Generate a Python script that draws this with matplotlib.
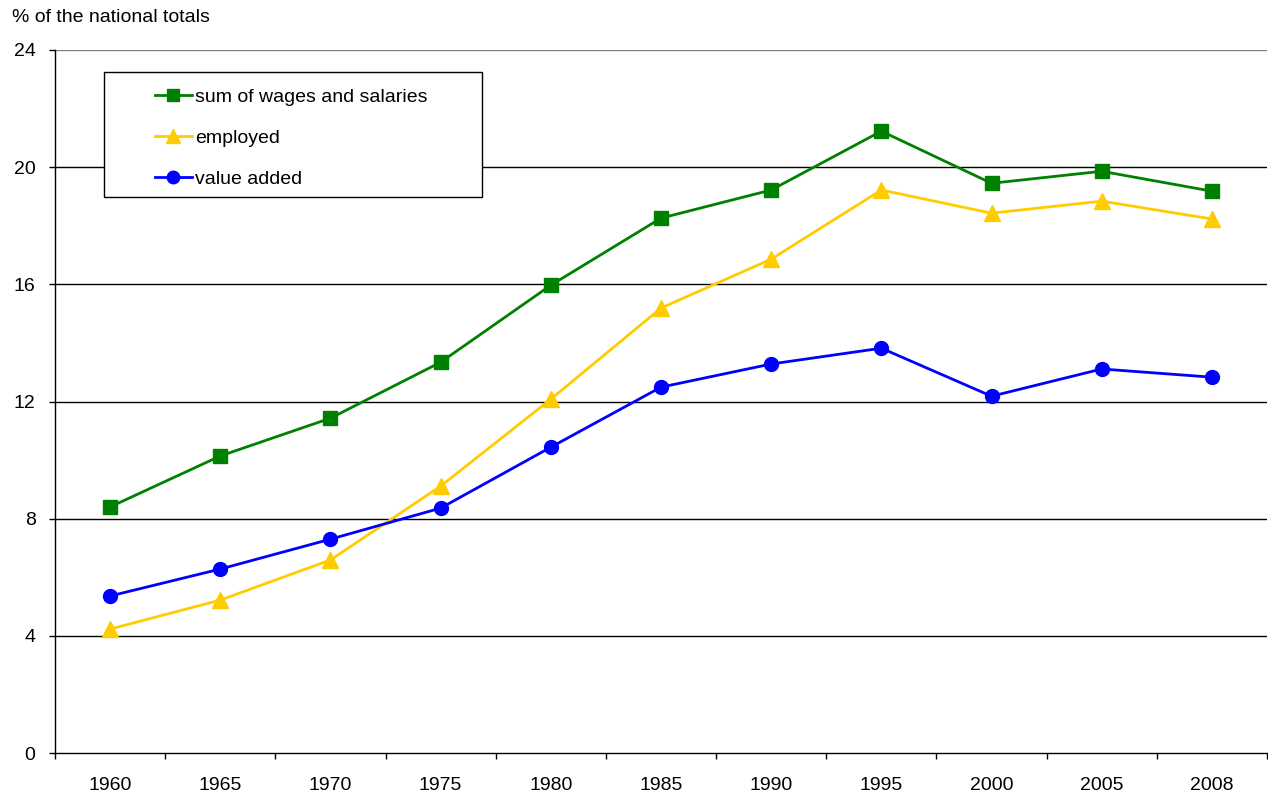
import matplotlib
matplotlib.use("Agg")
import matplotlib.pyplot as plt
from matplotlib.patches import Rectangle
import numpy as np

plt.rcParams['font.family'] = ['Liberation Sans', 'DejaVu Sans']

years = ["1960", "1965", "1970", "1975", "1980", "1985", "1990", "1995", "2000", "2005", "2008"]
wages = [8.40, 10.14, 11.43, 13.34, 15.97, 18.26, 19.22, 21.23, 19.45, 19.86, 19.18]
employed = [4.23, 5.22, 6.59, 9.11, 12.08, 15.19, 16.86, 19.22, 18.43, 18.84, 18.23]
value_added = [5.36, 6.28, 7.30, 8.36, 10.44, 12.49, 13.28, 13.82, 12.18, 13.11, 12.83]
yticks = [0, 4, 8, 12, 16, 20, 24]

fig = plt.figure(figsize=(12.68, 7.96), dpi=100)
ax = fig.add_axes([55/1268, 43/796, 1212/1268, 703/796])

x = np.arange(len(years))
ax.plot(x, wages, color='#008000', lw=2, marker='s', ms=10, label='sum of wages and salaries', zorder=5)
ax.plot(x, employed, color='#FFCC00', lw=2, marker='^', ms=11, label='employed', zorder=5)
ax.plot(x, value_added, color='#0000FF', lw=2, marker='o', ms=10, label='value added', zorder=5)

ax.set_xlim(-0.5, len(years) - 0.5)
ax.set_ylim(0, 24)
ax.set_yticks(yticks)
ax.set_yticklabels([str(v) for v in yticks], fontsize=14)
for v in yticks[1:]:
    ax.axhline(v, color='#808080' if v == 24 else 'black', lw=1, zorder=1)

ax.set_xticks(x)
ax.set_xticklabels(years, fontsize=14)
ax.set_xticks(np.arange(-0.5, len(years) + 0.5, 1), minor=True)
ax.tick_params(axis='x', which='major', length=0, pad=17)
ax.tick_params(axis='x', which='minor', length=4, width=1, direction='out', color='black')
ax.tick_params(axis='y', length=4, width=1, direction='out', pad=10)

for s in ['top', 'right']:
    ax.spines[s].set_visible(False)
for s in ['left', 'bottom']:
    ax.spines[s].set_color('black')
    ax.spines[s].set_linewidth(1)

# legend box
x0 = (104 - 55) / 1212
y0 = (753 - 197) / 703
w = (482 - 104) / 1212
h = (197 - 72) / 703
ax.add_patch(Rectangle((x0, y0), w, h, transform=ax.transAxes, fill=True,
                       facecolor='white', edgecolor='black', lw=1, zorder=6))
leg = ax.legend(loc='upper left', bbox_to_anchor=((155 - 55) / 1212, (753 - 88) / 703),
                frameon=False, fontsize=14, handlelength=1.9, handletextpad=0.15,
                labelspacing=1.2, borderpad=0, borderaxespad=0, markerscale=0.9)
leg.set_zorder(7)

fig.text(12 / 1268, 1 - 18 / 796, '% of the national totals', fontsize=14, va='center', ha='left')

fig.savefig('out.png', dpi=100)
